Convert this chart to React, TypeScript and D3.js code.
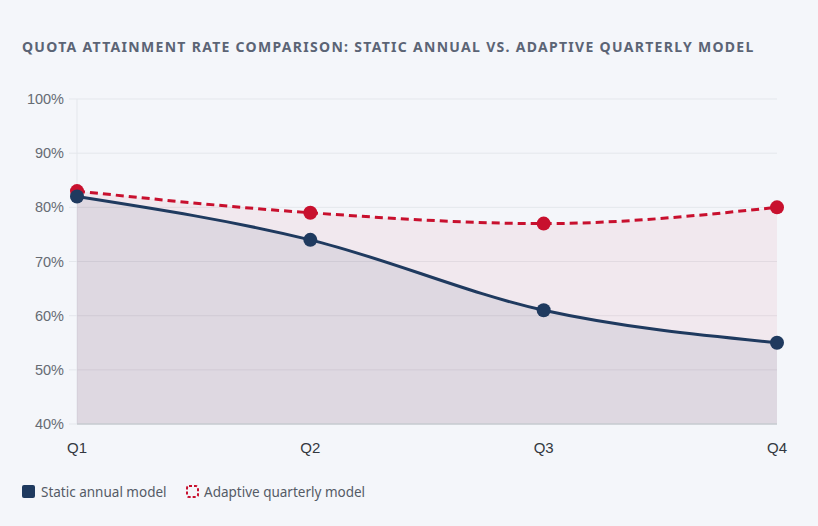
import { useEffect } from "react";
import * as d3 from "d3";

const QUARTERS = ["Q1", "Q2", "Q3", "Q4"];
const STATIC_ANNUAL = [82, 74, 61, 55];
const ADAPTIVE_QUARTERLY = [83, 79, 77, 80];
const Y_TICKS = [40, 50, 60, 70, 80, 90, 100];

const NAVY = "#1f3a5f";
const CRIMSON = "#c8102e";
const W = 818;
const H = 526;
const margin = { top: 99, right: 41, bottom: 102, left: 77 };

export default function App() {
  useEffect(() => {
    document.body.style.margin = "0";
  }, []);

  const x = d3
    .scalePoint<string>()
    .domain(QUARTERS)
    .range([margin.left, W - margin.right]);
  const y = d3
    .scaleLinear()
    .domain([40, 100])
    .range([H - margin.bottom, margin.top]);

  const line = d3
    .line<number>()
    .x((_, i) => x(QUARTERS[i])!)
    .y((d) => y(d))
    .curve(d3.curveMonotoneX);
  const area = d3
    .area<number>()
    .x((_, i) => x(QUARTERS[i])!)
    .y0(y(40))
    .y1((d) => y(d))
    .curve(d3.curveMonotoneX);

  const x0 = margin.left;
  const x1 = W - margin.right;
  const yBase = y(40);

  return (
    <svg width={W} height={H} style={{ display: "block", background: "#f4f6fa" }}>
      <text
        x={22}
        y={52}
        fill="#5b6475"
        fontFamily="'Noto Sans', sans-serif"
        fontWeight={700}
        fontSize={14}
        letterSpacing={1.3}
      >
        QUOTA ATTAINMENT RATE COMPARISON: STATIC ANNUAL VS. ADAPTIVE QUARTERLY MODEL
      </text>

      {/* grid */}
      {Y_TICKS.map((t) => (
        <g key={t}>
          <line x1={x0 - 8} x2={x1} y1={y(t)} y2={y(t)} stroke="#e4e7ec" strokeWidth={1} />
          <text
            x={x0 - 13}
            y={y(t)}
            dy="0.35em"
            textAnchor="end"
            fill="#666b73"
            fontFamily="'Liberation Sans', Arial, sans-serif"
            fontSize={14.5}
          >
            {t}%
          </text>
        </g>
      ))}
      <line x1={x0} x2={x0} y1={margin.top} y2={yBase} stroke="#e4e7ec" />

      {/* areas */}
      <path d={area(ADAPTIVE_QUARTERLY)!} fill={CRIMSON} fillOpacity={0.06} />
      <path d={area(STATIC_ANNUAL)!} fill={NAVY} fillOpacity={0.09} />

      <line x1={x0} x2={x1} y1={yBase} y2={yBase} stroke="#c9ccd2" strokeWidth={1.5} />

      {/* lines */}
      <path
        d={line(ADAPTIVE_QUARTERLY)!}
        fill="none"
        stroke={CRIMSON}
        strokeWidth={3}
        strokeDasharray="8 5"
      />
      <path d={line(STATIC_ANNUAL)!} fill="none" stroke={NAVY} strokeWidth={3} />

      {ADAPTIVE_QUARTERLY.map((v, i) => (
        <circle key={"a" + i} cx={x(QUARTERS[i])} cy={y(v)} r={7} fill={CRIMSON} />
      ))}
      {STATIC_ANNUAL.map((v, i) => (
        <circle key={"s" + i} cx={x(QUARTERS[i])} cy={y(v)} r={7} fill={NAVY} />
      ))}

      {QUARTERS.map((q) => (
        <text
          key={q}
          x={x(q)}
          y={448}
          dy="0.35em"
          textAnchor="middle"
          fill="#333840"
          fontFamily="'Liberation Sans', Arial, sans-serif"
          fontSize={15}
        >
          {q}
        </text>
      ))}

      {/* legend */}
      <rect x={22} y={485} width={13} height={13} rx={2} fill={NAVY} />
      <text x={41} y={492} dy="0.35em" fill="#555b66" fontFamily="'Noto Sans', sans-serif" fontSize={13.5}>
        Static annual model
      </text>
      <rect
        x={187}
        y={486}
        width={11}
        height={11}
        rx={2}
        fill="none"
        stroke={CRIMSON}
        strokeWidth={2}
        strokeDasharray="3 2"
      />
      <text x={204} y={492} dy="0.35em" fill="#555b66" fontFamily="'Noto Sans', sans-serif" fontSize={13.5}>
        Adaptive quarterly model
      </text>
    </svg>
  );
}
